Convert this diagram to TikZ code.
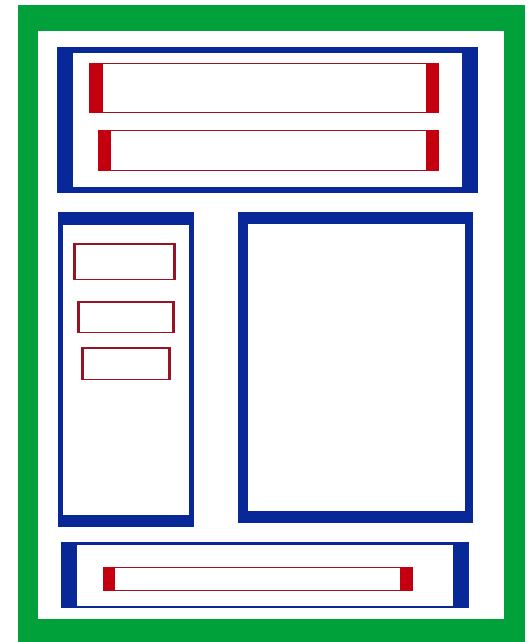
\documentclass[tikz,border=0pt]{standalone}
\definecolor{grn}{RGB}{0,161,58}
\definecolor{blu}{RGB}{8,40,152}
\definecolor{redblk}{RGB}{196,0,16}
\definecolor{redline}{RGB}{150,20,35}
\begin{document}
\begin{tikzpicture}[x=1pt,y=-1pt,
  bluefill/.style={fill=blu},
  whitefill/.style={fill=white},
  barbox/.style={draw=redline,line width=1.3pt,fill=white},
  redend/.style={fill=redblk}]
\useasboundingbox (0,0) rectangle (527,642);
\fill[white] (0,0) rectangle (527,642);
% green frame
\fill[grn] (18,5) rectangle (525,642);
\fill[whitefill] (38,31) rectangle (504,619);
% top blue panel
\fill[bluefill] (57,47) rectangle (478,193);
\fill[whitefill] (73,53) rectangle (462,187);
\draw[barbox] (89.6,63.6) rectangle (438.4,112.4);
\fill[redend] (89,63) rectangle (103,113);
\fill[redend] (426,63) rectangle (439,113);
\draw[barbox] (98.6,130.6) rectangle (438.4,170.4);
\fill[redend] (98,130) rectangle (111,171);
\fill[redend] (426,130) rectangle (439,171);
% left panel
\fill[bluefill] (58,212) rectangle (194,527);
\fill[whitefill] (63,225) rectangle (189,515);
\fill[redline] (73,243) rectangle (176,280);
\fill[whitefill] (76,244.5) rectangle (173,278.5);
\fill[redline] (77,301) rectangle (175,333);
\fill[whitefill] (80,302.5) rectangle (172,331.5);
\fill[redline] (81,347) rectangle (171,380);
\fill[whitefill] (84,348.5) rectangle (168,378.5);
% right panel
\fill[bluefill] (238,212) rectangle (473,523);
\fill[whitefill] (248,224) rectangle (465,511);
% bottom panel
\fill[bluefill] (61,542) rectangle (469,608);
\fill[whitefill] (77,545) rectangle (453,606);
\draw[barbox] (103.6,567.6) rectangle (412.4,590.4);
\fill[redend] (103,567) rectangle (115,591);
\fill[redend] (400,567) rectangle (413,591);
\end{tikzpicture}
\end{document}
